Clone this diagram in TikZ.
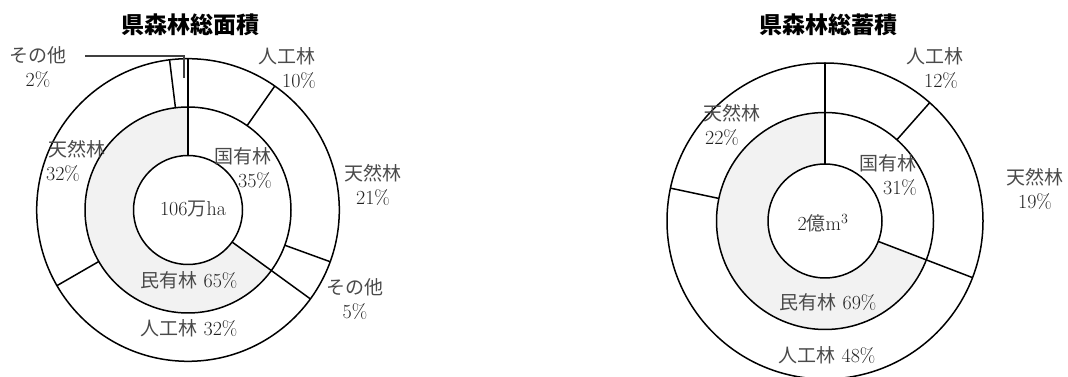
\documentclass[tikz,border=0pt]{standalone}
\usepackage{fontspec}
\newfontfamily\cjk{Noto Sans CJK JP}
\definecolor{txt}{HTML}{202020}
\definecolor{cjktxt}{HTML}{4A4A4A}
\definecolor{pale}{HTML}{F2F2F2}
\newcommand\J[1]{{\cjk\fontsize{19}{22}\selectfont\color{cjktxt}#1}}
\tikzset{
  ring/.style={draw=black,line width=1.5pt},
  sep/.style={draw=black,line width=1.5pt},
  lbl/.style={text=txt,font=\fontsize{20}{22}\selectfont,inner sep=0pt,align=center},
  ttl/.style={text=black,font=\cjk\bfseries\fontsize{23}{26}\selectfont,inner sep=0pt},
  lead/.style={draw=black!75,line width=1.3pt}
}
\begin{document}
\begin{tikzpicture}[x=1pt,y=1pt]
\useasboundingbox (0,0) rectangle (1068,377);
% ---------------- left chart ----------------
\begin{scope}[shift={(188,167)}]
  \fill[pale] (90:103) arc[start angle=90,end angle=324,radius=103]
     -- (324:54.5) arc[start angle=324,end angle=90,radius=54.5] -- cycle;
  \draw[ring] (0,0) circle[radius=54.5];
  \draw[ring] (0,0) circle[radius=103];
  \draw[ring] (0,0) circle[radius=151.3];
  \draw[sep] (90:54.5) -- (90:151.3);
  \draw[sep] (-36:54.5) -- (-36:151.3);
  \draw[sep] (55:103) -- (55:151.3);
  \draw[sep] (-20:103) -- (-20:151.3);
  \draw[sep] (210:103) -- (210:151.3);
  \draw[sep] (97:103) -- (97:151.3);
  \coordinate (oL) at (-4,132);
\end{scope}
\node[ttl] (t1) at (190,352) {県森林総面積};
\node[lbl] (a1) at (38,310) {\J{その他}\\[2pt]2\%};
\coordinate (lk1) at (85,321);
\coordinate (lk2) at (184,321);
\draw[lead] (lk1) -- (lk2) -- (oL);
\node[lbl] (a2) at (287,309) {\J{人工林}\\[2pt]\hspace*{1.2em}10\%};
\node[lbl] (a3) at (373,192) {\J{天然林}\\[2pt]21\%};
\node[lbl] (a4) at (355,78) {\J{その他}\\[2pt]5\%};
\node[lbl] (a5) at (189,49) {\J{人工林} 32\%};
\node[lbl] (a6) at (189,97) {\J{民有林} 65\%};
\node[lbl] (a7) at (243,209) {\J{国有林}\\[2pt]\hspace*{1.2em}35\%};
\node[lbl] (a8) at (193,168) {106\J{万}ha};
\node[lbl] (a9) at (77,216) {\J{天然林}\\[2pt]32\%\hspace*{1.4em}};
% ---------------- right chart ----------------
\begin{scope}[shift={(825,156)}]
  \fill[pale] (90:108.5) arc[start angle=90,end angle=339,radius=108.5]
     -- (339:57) arc[start angle=339,end angle=90,radius=57] -- cycle;
  \draw[ring] (0,0) circle[radius=57];
  \draw[ring] (0,0) circle[radius=108.5];
  \draw[ring] (0,0) circle[radius=158];
  \draw[sep] (90:57) -- (90:158);
  \draw[sep] (-21:57) -- (-21:158);
  \draw[sep] (48.5:108.5) -- (48.5:158);
  \draw[sep] (168:108.5) -- (168:158);
\end{scope}
\node[ttl] (t2) at (828,352) {県森林総蓄積};
\node[lbl] (b1) at (935,309) {\J{人工林}\\[2pt]\hspace*{0.6em}12\%};
\node[lbl] (b2) at (1035,188) {\J{天然林}\\[2pt]19\%};
\node[lbl] (b3) at (888,202) {\J{国有林}\\[2pt]\hspace*{1.2em}31\%};
\node[lbl] (b4) at (823,154) {2\J{億}m\textsuperscript{3}};
\node[lbl] (b5) at (828,75) {\J{民有林} 69\%};
\node[lbl] (b6) at (827,22) {\J{人工林} 48\%};
\node[lbl] (b7) at (732,252) {\J{天然林}\\[2pt]22\%\hspace*{1em}};
\end{tikzpicture}
\end{document}
